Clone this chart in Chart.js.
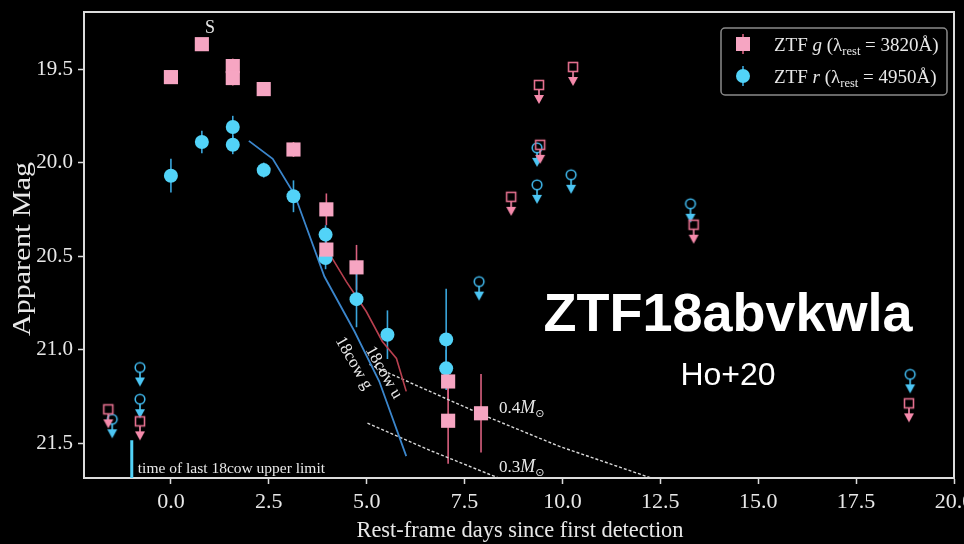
<!DOCTYPE html>
<html>
<head>
<meta charset="utf-8">
<script src="https://cdn.jsdelivr.net/npm/chart.js@4.4.1/dist/chart.umd.min.js"></script>
<style>
  html, body { margin: 0; padding: 0; background: #000; }
  #wrap { width: 964px; height: 544px; }
</style>
</head>
<body>
<div id="wrap"><canvas id="grafico" width="964" height="544"></canvas></div>
<script>
// ZTF g detections (days, mag, error)
const gDays = [0.0, 0.79, 1.58, 1.58, 2.37, 3.13, 3.97, 3.97, 4.74, 7.08, 7.08, 7.92];
const gMag  = [19.543, 19.367, 19.484, 19.548, 19.607, 19.93, 20.25, 20.465, 20.56, 21.17, 21.38, 21.34];
const gErr  = [0.035, 0.03, 0.04, 0.04, 0.035, 0.04, 0.085, 0.05, 0.12, 0.1, 0.23, 0.21];

// ZTF r detections
const rDays = [0.0, 0.79, 1.58, 1.58, 2.37, 3.13, 3.95, 3.95, 4.74, 5.53, 7.03, 7.03];
const rMag  = [20.07, 19.89, 19.81, 19.905, 20.04, 20.18, 20.385, 20.51, 20.73, 20.92, 20.945, 21.1];
const rErr  = [0.09, 0.06, 0.06, 0.05, 0.04, 0.085, 0.05, 0.06, 0.15, 0.13, 0.27, 0.1];

// upper limits
const gLimDays = [-1.6, -0.79, 9.4, 10.27, 9.43, 8.69, 13.35, 18.85];
const gLimMag  = [21.319, 21.383, 19.585, 19.489, 19.905, 20.183, 20.332, 21.287];
const rLimDays = [-1.5, -0.79, -0.79, 9.35, 9.35, 10.22, 7.87, 13.27, 18.88];
const rLimMag  = [21.372, 21.095, 21.265, 19.921, 20.119, 20.065, 20.636, 20.22, 21.132];

// AT2018cow light curves
const cowGDays = [1.99, 2.6, 3.16, 3.92, 4.69, 5.32, 6.01];
const cowGMag  = [19.884, 19.98, 20.172, 20.609, 20.903, 21.169, 21.569];
const cowUDays = [3.97, 4.48, 4.99, 5.4, 5.76, 6.01];
const cowUMag  = [20.46, 20.636, 20.796, 20.956, 21.047, 21.223];

// model tracks
const m04Days = [5.07, 7.92, 9.91, 12.28];
const m04Mag  = [21.079, 21.345, 21.516, 21.687];
const m03Days = [5.02, 6.67, 8.38];
const m03Mag  = [21.393, 21.543, 21.687];

// last 18cow upper limit
const cowLimDay = -1.0;
const cowLimMag = [21.484, 21.692];

const xTicks = [0, 2.5, 5, 7.5, 10, 12.5, 15, 17.5, 20];
const yTicks = [19.5, 20.0, 20.5, 21.0, 21.5];

const PINK = '#f6a5c2';
const PINK_DARK = '#d9607f';
const CYAN = '#52d3f8';
const CYAN_DARK = '#3aa6dc';
const SERIF = '"Liberation Serif", "DejaVu Serif", serif';
const TXT = '#e8e8e8';

function pts(xs, ys) {
    return xs.map((x, i) => ({ x: x, y: ys[i] }));
}

// open marker with arrow pointing down, centred on the value
function limitMarker(shape, color, arrow) {
    const c = document.createElement('canvas');
    c.width = 16;
    c.height = 54;
    const ctx = c.getContext('2d');
    ctx.strokeStyle = color;
    ctx.lineWidth = 1.6;
    if (shape === 'rect') {
        ctx.strokeRect(3.5, 22.5, 9, 9);
    } else {
        ctx.beginPath();
        ctx.arc(8, 27, 4.8, 0, Math.PI * 2);
        ctx.stroke();
    }
    ctx.strokeStyle = arrow;
    ctx.beginPath();
    ctx.moveTo(8, 32);
    ctx.lineTo(8, 40);
    ctx.stroke();
    ctx.fillStyle = arrow;
    ctx.beginPath();
    ctx.moveTo(3, 37);
    ctx.lineTo(13, 37);
    ctx.lineTo(8, 46);
    ctx.closePath();
    ctx.fill();
    return c;
}

function richText(ctx, x, y, parts) {
    parts.forEach(p => {
        ctx.font = p.font;
        ctx.fillText(p.t, x, y + (p.dy || 0));
        x += ctx.measureText(p.t).width;
    });
    return x;
}

// text squeezed/stretched to a given length
function fitText(ctx, txt, x, y, len) {
    const w = ctx.measureText(txt).width;
    ctx.save();
    ctx.translate(x, y);
    ctx.scale(len / w, 1);
    ctx.textAlign = 'center';
    ctx.fillText(txt, 0, 0);
    ctx.restore();
}

const overlay = {
    id: 'overlay',
    beforeDatasetsDraw(chart) {
        const ctx = chart.ctx;
        const xs = chart.scales.x, ys = chart.scales.y;
        ctx.save();
        ctx.lineWidth = 1.6;
        const bars = (days, mags, errs, color) => {
            ctx.strokeStyle = color;
            days.forEach((d, i) => {
                const px = xs.getPixelForValue(d);
                ctx.beginPath();
                ctx.moveTo(px, ys.getPixelForValue(mags[i] - errs[i]));
                ctx.lineTo(px, ys.getPixelForValue(mags[i] + errs[i]));
                ctx.stroke();
            });
        };
        bars(gDays, gMag, gErr, PINK_DARK);
        bars(rDays, rMag, rErr, CYAN_DARK);
        ctx.restore();
    },
    afterDraw(chart) {
        const ctx = chart.ctx;
        const a = chart.chartArea;
        const xs = chart.scales.x, ys = chart.scales.y;
        ctx.save();

        // frame top/right
        ctx.strokeStyle = '#dcdcdc';
        ctx.lineWidth = 2;
        ctx.beginPath();
        ctx.moveTo(a.left, a.top);
        ctx.lineTo(a.right, a.top);
        ctx.lineTo(a.right, a.bottom);
        ctx.stroke();

        ctx.fillStyle = TXT;
        ctx.textBaseline = 'alphabetic';

        // axis titles
        ctx.font = '23px ' + SERIF;
        fitText(ctx, 'Rest-frame days since first detection', 520, 537, 327);
        ctx.save();
        ctx.translate(30, 249);
        ctx.rotate(-Math.PI / 2);
        ctx.font = '25px ' + SERIF;
        fitText(ctx, 'Apparent Mag', 0, 0, 174);
        ctx.restore();

        // S label
        ctx.font = '18px ' + SERIF;
        ctx.textAlign = 'center';
        ctx.fillText('S', xs.getPixelForValue(1.0), ys.getPixelForValue(19.305));

        // 18cow labels, rotated along the curves
        ctx.font = '17px ' + SERIF;
        ctx.textAlign = 'left';
        const rot = (txt, dx, my) => {
            ctx.save();
            ctx.translate(xs.getPixelForValue(dx), ys.getPixelForValue(my));
            ctx.rotate(60 * Math.PI / 180);
            ctx.fillText(txt, 0, 0);
            ctx.restore();
        };
        rot('18cow g', 4.2, 20.95);
        rot('18cow u', 4.96, 21.0);

        // model track labels
        const mFont = '17px ' + SERIF;
        const mIt = 'italic 18px ' + SERIF;
        const sun = '11px "DejaVu Sans", sans-serif';
        richText(ctx, xs.getPixelForValue(8.38), ys.getPixelForValue(21.34),
            [{ t: '0.4', font: mFont }, { t: 'M', font: mIt }, { t: '\u2299', font: sun, dy: 4 }]);
        richText(ctx, xs.getPixelForValue(8.38), ys.getPixelForValue(21.655),
            [{ t: '0.3', font: mFont }, { t: 'M', font: mIt }, { t: '\u2299', font: sun, dy: 4 }]);

        // 18cow last limit text
        ctx.font = '15.5px ' + SERIF;
        ctx.fillText('time of last 18cow upper limit', xs.getPixelForValue(cowLimDay) + 6, a.bottom - 5);

        // legend
        ctx.fillStyle = '#000';
        ctx.strokeStyle = '#8a8a8a';
        ctx.lineWidth = 1.5;
        ctx.beginPath();
        ctx.roundRect(721, 28, 226, 67, 4);
        ctx.fill();
        ctx.stroke();

        ctx.lineWidth = 1.6;
        ctx.strokeStyle = PINK_DARK;
        ctx.beginPath(); ctx.moveTo(743, 34); ctx.lineTo(743, 54); ctx.stroke();
        ctx.fillStyle = PINK;
        ctx.fillRect(736, 37, 14, 14);
        ctx.strokeStyle = CYAN_DARK;
        ctx.beginPath(); ctx.moveTo(743, 66); ctx.lineTo(743, 86); ctx.stroke();
        ctx.fillStyle = CYAN;
        ctx.beginPath(); ctx.arc(743, 76, 7, 0, Math.PI * 2); ctx.fill();

        ctx.fillStyle = TXT;
        const f = '19px ' + SERIF, fi = 'italic 19px ' + SERIF, fs = '12.5px ' + SERIF;
        richText(ctx, 774, 51, [
            { t: 'ZTF ', font: f }, { t: 'g', font: fi }, { t: ' (\u03bb', font: f },
            { t: 'rest', font: fs, dy: 4 }, { t: ' = 3820\u00c5)', font: f }]);
        richText(ctx, 774, 83, [
            { t: 'ZTF ', font: f }, { t: 'r', font: fi }, { t: ' (\u03bb', font: f },
            { t: 'rest', font: fs, dy: 4 }, { t: ' = 4950\u00c5)', font: f }]);

        // object name
        ctx.fillStyle = '#ffffff';
        ctx.textAlign = 'center';
        ctx.font = 'bold 54px "Liberation Sans", Arial, sans-serif';
        ctx.fillText('ZTF18abvkwla', 728, 331);
        ctx.font = '32px "Liberation Sans", Arial, sans-serif';
        ctx.fillText('Ho+20', 728, 385);

        ctx.restore();
    }
};

const ctxGraf = document.getElementById('grafico').getContext('2d');
const grafico = new Chart(ctxGraf, {
    type: 'scatter',
    data: {
        datasets: [
            {
                label: 'ZTF g',
                data: pts(gDays, gMag),
                pointStyle: 'rect',
                pointRadius: 10,
                backgroundColor: PINK,
                borderWidth: 0
            },
            {
                label: 'ZTF r',
                data: pts(rDays, rMag),
                pointStyle: 'circle',
                pointRadius: 7,
                backgroundColor: CYAN,
                borderWidth: 0
            },
            {
                label: 'g limits',
                data: pts(gLimDays, gLimMag),
                pointStyle: limitMarker('rect', '#e5708f', '#f58aab')
            },
            {
                label: 'r limits',
                data: pts(rLimDays, rLimMag),
                pointStyle: limitMarker('circle', '#3fb6ea', '#4cc6f4')
            },
            {
                label: '18cow g',
                data: pts(cowGDays, cowGMag),
                showLine: true,
                pointRadius: 0,
                borderColor: '#3b86cc',
                borderWidth: 1.8
            },
            {
                label: '18cow u',
                data: pts(cowUDays, cowUMag),
                showLine: true,
                pointRadius: 0,
                borderColor: '#b8404f',
                borderWidth: 1.6
            },
            {
                label: '0.4',
                data: pts(m04Days, m04Mag),
                showLine: true,
                pointRadius: 0,
                borderColor: '#d8d8d8',
                borderWidth: 1.4,
                borderDash: [3, 2]
            },
            {
                label: '0.3',
                data: pts(m03Days, m03Mag),
                showLine: true,
                pointRadius: 0,
                borderColor: '#d8d8d8',
                borderWidth: 1.4,
                borderDash: [3, 2]
            },
            {
                label: 'last 18cow limit',
                data: cowLimMag.map(m => ({ x: cowLimDay, y: m })),
                showLine: true,
                pointRadius: 0,
                borderColor: CYAN,
                borderWidth: 3
            }
        ]
    },
    options: {
        responsive: false,
        animation: false,
        layout: { padding: { top: 12, right: 8, left: 0, bottom: 0 } },
        plugins: {
            legend: { display: false },
            tooltip: { enabled: false }
        },
        scales: {
            x: {
                type: 'linear',
                min: -2.22,
                max: 20,
                afterBuildTicks: s => { s.ticks = xTicks.map(v => ({ value: v })); },
                afterFit: s => { s.height = 66; s.paddingLeft = 0; s.paddingRight = 0; },
                border: { color: '#dcdcdc', width: 2 },
                grid: { drawOnChartArea: false, color: '#dcdcdc', tickLength: 6, tickWidth: 1.5 },
                ticks: {
                    color: TXT,
                    font: { family: SERIF, size: 22 },
                    padding: 5,
                    maxRotation: 0,
                    callback: v => v.toFixed(1)
                }
            },
            y: {
                type: 'linear',
                reverse: true,
                min: 19.195,
                max: 21.686,
                afterBuildTicks: s => { s.ticks = yTicks.map(v => ({ value: v })); },
                afterFit: s => { s.width = 84; s.paddingTop = 0; s.paddingBottom = 0; },
                border: { color: '#dcdcdc', width: 2 },
                grid: { drawOnChartArea: false, color: '#dcdcdc', tickLength: 6, tickWidth: 1.5 },
                ticks: {
                    color: TXT,
                    font: { family: SERIF, size: 21 },
                    padding: 5,
                    callback: v => v.toFixed(1)
                }
            }
        }
    },
    plugins: [overlay]
});
</script>
</body>
</html>
